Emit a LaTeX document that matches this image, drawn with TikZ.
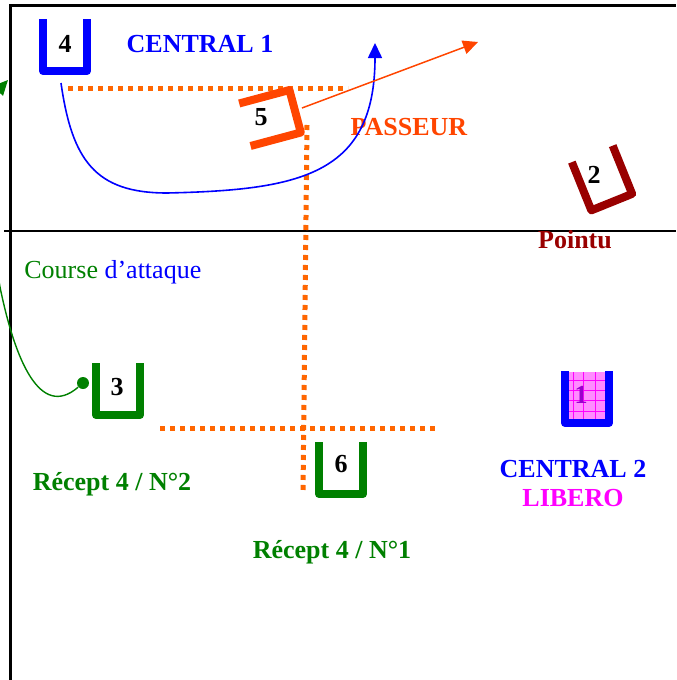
\documentclass[tikz,border=0pt]{standalone}
\usepackage{fontspec}
\setmainfont{Liberation Serif}
\usetikzlibrary{arrows.meta}

\definecolor{bleu}{RGB}{0,0,255}
\definecolor{vert}{RGB}{0,128,0}
\definecolor{passeur}{RGB}{255,69,0}
\definecolor{pointu}{RGB}{153,0,0}
\definecolor{zone}{RGB}{255,102,0}
\definecolor{rose}{RGB}{255,140,255}
\definecolor{libero}{RGB}{255,0,255}
\definecolor{violet}{RGB}{153,0,204}

\tikzset{
  poste/.pic={\draw[line width=4pt, line join=round] (-22,-26) -- (-22,26) -- (22,26) -- (22,-26);},
  num/.style={font=\fontsize{13}{15}\selectfont\bfseries, anchor=base, inner sep=0pt},
  role/.style={font=\fontsize{13}{15}\selectfont\bfseries, anchor=base, inner sep=0pt},
  limite/.style={zone, line width=2.5pt, dash pattern=on 2.5pt off 2.5pt},
}

\begin{document}
\begin{tikzpicture}[x=0.5pt, y=-0.5pt, >={Triangle[length=7.5pt, width=7pt]}]
\useasboundingbox (0,0) rectangle (676,680);
\clip (0,0) rectangle (676,680);

% terrain
\draw[line width=1.5pt] (10,680) -- (10,5) -- (676,5);
\draw[line width=0.8pt] (4,231) -- (676,231);

% zones
\draw[limite] (68,88) -- (348,88);
\draw[limite] (307,125) -- (303,492);
\draw[limite] (160,428) -- (438,428);

% libero
\fill[rose] (568,372) rectangle (606,420);
\foreach \gx in {573,583,595} \draw[libero, line width=0.3pt] (\gx,372) -- (\gx,420);
\foreach \gy in {380,390,400,411} \draw[libero, line width=0.3pt] (568,\gy) -- (606,\gy);

% joueurs
\pic[bleu] at (65,45) {poste};
\pic[passeur, rotate=105] at (270,118) {poste};
\pic[pointu, rotate=22] at (602,178) {poste};
\pic[vert] at (118,389) {poste};
\pic[vert] at (341,468) {poste};
\pic[bleu] at (587,397) {poste};

\node[num] (n4) at (65,52) {4};
\node[num] (n5) at (261,125) {5};
\node[num] (n2) at (594,183) {2};
\node[num] (n3) at (117,395) {3};
\node[num] (n6) at (341,472) {6};
\node[num, violet] (n1) at (581,403) {1};

\node[role, bleu] (c1) at (200,53) {CENTRAL 1};
\node[role, passeur] (pa) at (409,135) {PASSEUR};
\node[role, pointu] (po) at (575,248) {Pointu};
\node[role, vert] (r2) at (112,490) {Récept 4 / N°2};
\node[role, vert] (r1) at (332,558) {Récept 4 / N°1};
\node[role, bleu] (c2) at (573,477) {CENTRAL 2};
\node[role, libero] (li) at (573,506) {LIBERO};
\node[font=\fontsize{13}{15}\selectfont, anchor=base west, inner sep=0pt] (ca) at (24,278)
  {\textcolor{vert}{Course} \textcolor{bleu}{d’attaque}};

% courses
\coordinate (d4) at (61,83);
\coordinate (a4) at (375,43);
\coordinate (d5) at (302,108);
\coordinate (a5) at (478,42);
\coordinate (a3) at (8,80);
\node[circle, fill=vert, inner sep=0pt, minimum size=6pt] (d3) at (83,383) {};

\draw[bleu, line width=0.8pt, ->] (d4) .. controls (72,160) and (95,193) .. (167,193)
  .. controls (300,190) and (375,175) .. (a4);
\draw[passeur, line width=0.75pt, ->] (d5) -- (a5);
\draw[vert, line width=0.7pt, ->] (d3) .. controls (40,420) and (15,360) .. (0,287)
  .. controls (-15,200) and (-20,110) .. (a3);
\end{tikzpicture}
\end{document}
